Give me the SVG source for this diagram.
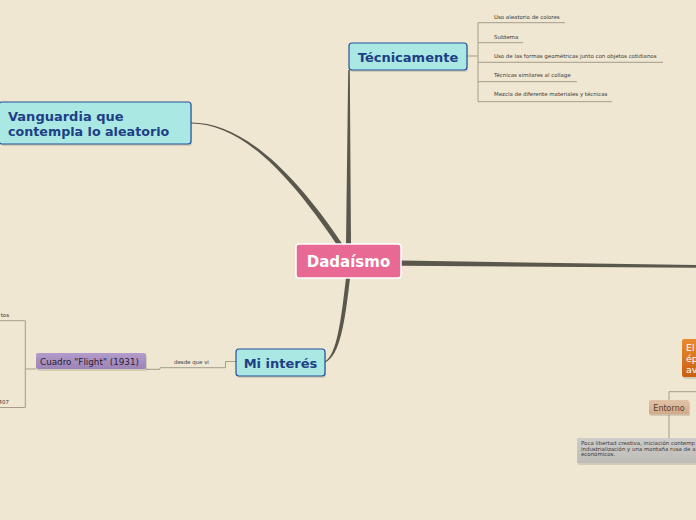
<svg xmlns="http://www.w3.org/2000/svg" width="696" height="520" viewBox="0 0 696 520">
<defs>
<style>
.bg{fill:#efe7d1}
.main{fill:#5a584d}
.thin{fill:none;stroke:#a39d8a;stroke-width:1}
.topic{fill:#a9e8e3;stroke:#27509a;stroke-width:1.2}
.topicT{font-family:"DejaVu Sans",sans-serif;font-weight:bold;font-size:13px;fill:#1e3f86}
.small{font-family:"DejaVu Sans",sans-serif;font-size:5.45px;fill:#3a3a3a}
.shadow{fill:#000;opacity:0.12}
</style>
<linearGradient id="og" x1="0" y1="0" x2="0" y2="1">
<stop offset="0" stop-color="#ea8a30"/>
<stop offset="1" stop-color="#c8600f"/>
</linearGradient>
<linearGradient id="gg" x1="0" y1="0" x2="0" y2="1">
<stop offset="0" stop-color="#cfcdca"/>
<stop offset="1" stop-color="#bebcb9"/>
</linearGradient>
<linearGradient id="pg" x1="0" y1="0" x2="0" y2="1">
<stop offset="0" stop-color="#b39ccb"/>
<stop offset="1" stop-color="#9c84b6"/>
</linearGradient>
<linearGradient id="eg" x1="0" y1="0" x2="0" y2="1">
<stop offset="0" stop-color="#e2c2a6"/>
<stop offset="1" stop-color="#cfaa8b"/>
</linearGradient>
</defs>
<rect class="bg" x="0" y="0" width="696" height="520"/>

<g id="connectors">
<path class="main" d="M346,245 L351,245 L349.8,70 L348.2,70 Z"/>
<path class="main" d="M191,122.6 C241,122.6 292,169 343,245 L337,245 C287,171 240,123.6 191,123.6 Z"/>
<path class="main" d="M401,260.5 L696,265 L696,267.8 L401,265.8 Z"/>
<path class="main" d="M346,278 L350,278 C345,322 340,356 325,362.6 L325,361.6 C337,354 341,320 346,278 Z"/>
<path class="thin" d="M467,56 H478 M478,22.7 V101.7 M478,22.7 H565 M478,42.7 H523 M478,62.3 H663 M478,81.7 H577 M478,101.7 H612"/>
<path class="thin" d="M236,361.5 H225.5 V367.7 H160 V369.3 H146"/>
<path class="thin" d="M36,369 H25.3 M25.3,320.7 V407.5 M0,320.7 H25.3 M0,407.5 H25.3"/>
<path class="thin" d="M696,391.7 H669 V400 M669,415 V438"/>
</g>

<g id="n-dadaismo">
<rect x="296" y="244" width="105" height="34" rx="3" fill="#e86a94" stroke="#ffffff" stroke-width="1.5"/>
<text x="348.5" y="267" text-anchor="middle" font-family="'DejaVu Sans',sans-serif" font-weight="bold" font-size="15" fill="#ffffff">Dadaísmo</text>
</g>

<g id="n-tecnicamente">
<rect class="shadow" x="350" y="45" width="118" height="27" rx="3"/>
<rect class="topic" x="349" y="43" width="118" height="27" rx="3"/>
<text class="topicT" x="408" y="62" text-anchor="middle">Técnicamente</text>
</g>

<g id="n-vanguardia">
<rect class="shadow" x="1" y="104" width="191" height="42" rx="3"/>
<rect class="topic" x="-1" y="102" width="192" height="42" rx="3"/>
<text class="topicT" x="8" y="121" font-size="12.7">Vanguardia que</text>
<text class="topicT" x="8" y="136" style="font-size:12.7px">contempla lo aleatorio</text>
</g>

<g id="n-mi-interes">
<rect class="shadow" x="237" y="351" width="89" height="27" rx="3"/>
<rect class="topic" x="236" y="349" width="89" height="27" rx="3"/>
<text class="topicT" x="280.5" y="368" text-anchor="middle">Mi interés</text>
</g>

<g id="n-tec-1"><text class="small" x="494" y="18.5">Uso aleatorio de colores</text></g>
<g id="n-tec-2"><text class="small" x="494" y="38.5">Subtema</text></g>
<g id="n-tec-3"><text class="small" x="494" y="57.5">Uso de las formas geométricas junto con objetos cotidianos</text></g>
<g id="n-tec-4"><text class="small" x="494" y="77">Técnicas similares al collage</text></g>
<g id="n-tec-5"><text class="small" x="494" y="96">Mezcla de diferente materiales y técnicas</text></g>

<g id="l-desde"><text class="small" x="174" y="364">desde que vi</text></g>

<g id="n-cuadro">
<rect class="shadow" x="37" y="355" width="110" height="16" rx="2"/>
<rect x="36" y="353" width="110" height="16" rx="2" fill="url(#pg)"/>
<text x="40" y="365" font-family="'DejaVu Sans',sans-serif" font-size="8.8" fill="#2a2230">Cuadro "Flight" (1931)</text>
</g>

<g id="n-left-1"><text class="small" x="9" y="316.5" text-anchor="end">tos</text></g>
<g id="n-left-2"><text class="small" x="9" y="403.5" text-anchor="end">407</text></g>

<g id="n-orange">
<rect class="shadow" x="683" y="341" width="20" height="38" rx="2"/>
<rect x="682" y="339" width="20" height="38" rx="2" fill="url(#og)"/>
<text x="686" y="351" font-family="'DejaVu Sans',sans-serif" font-size="9.5" fill="#ffffff">El</text>
<text x="686" y="362" font-family="'DejaVu Sans',sans-serif" font-size="9.5" fill="#ffffff">ép</text>
<text x="686" y="373" font-family="'DejaVu Sans',sans-serif" font-size="9.5" fill="#ffffff">av</text>
</g>

<g id="n-entorno">
<rect class="shadow" x="650" y="402" width="40" height="14" rx="1.5"/>
<rect x="649" y="400" width="40" height="14.5" rx="1.5" fill="url(#eg)"/>
<text x="669" y="410.5" text-anchor="middle" font-family="'DejaVu Sans',sans-serif" font-size="8" fill="#5a3e2c">Entorno</text>
</g>

<g id="n-poca">
<rect class="shadow" x="578" y="440" width="125" height="25" rx="1.5"/>
<rect x="577" y="438" width="125" height="25" rx="1.5" fill="url(#gg)"/>
<text class="small" x="581" y="445.3">Poca libertad creativa, iniciación contemp</text>
<text class="small" x="581" y="450.6">industrialización y una montaña rusa de a</text>
<text class="small" x="581" y="455.9">económicos.</text>
</g>
</svg>
